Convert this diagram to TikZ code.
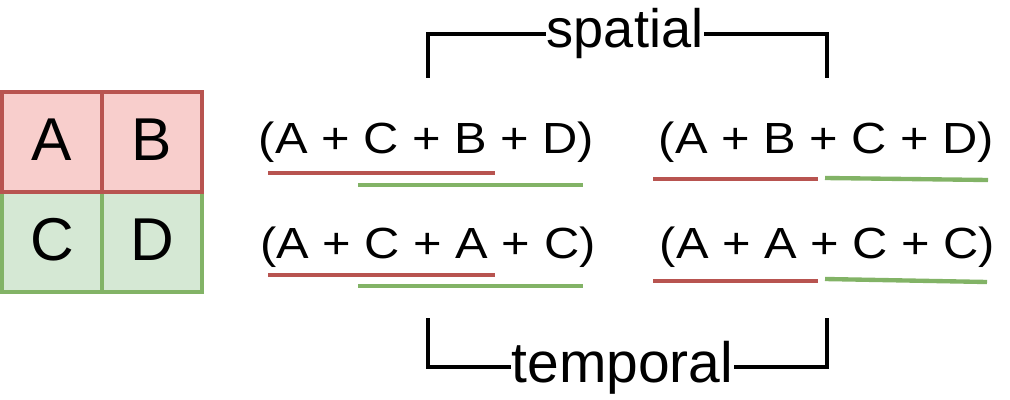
\documentclass[tikz,border=0pt]{standalone}
\usepackage{fontspec}
\setmainfont{Liberation Sans}
\newfontfamily\formulafont[FakeStretch=1.12]{Liberation Sans}
\usetikzlibrary{positioning}
\definecolor{redfill}{HTML}{F8CECC}
\definecolor{redline}{HTML}{B85450}
\definecolor{greenfill}{HTML}{D5E8D4}
\definecolor{greenline}{HTML}{82B366}

\begin{document}
\begin{tikzpicture}[x=0.025cm, y=-0.025cm,
  cell/.style={draw, line width=2.8pt, minimum size=2.5cm, inner sep=0pt, outer sep=0pt,
    text height=31pt, text depth=5pt, font=\fontsize{43}{50}\selectfont},
  redcell/.style={cell, draw=redline, fill=redfill},
  greencell/.style={cell, draw=greenline, fill=greenfill},
  sum/.style={anchor=base, inner sep=0pt, font=\formulafont\fontsize{31}{37}\selectfont},
  redbar/.style={draw=redline, line width=3.1pt},
  greenbar/.style={draw=greenline, line width=3.1pt},
  bracket/.style={line width=3pt},
  tag/.style={anchor=base, inner sep=0pt}]

  \useasboundingbox (0,0) rectangle (1010,400);

  % Grid
  \node[greencell] (c) at (52,242) {C};
  \node[greencell, right=0pt of c] (d) {D};
  \node[redcell, above=0pt of c] (a) {A};
  \node[redcell, right=0pt of a] (b) {B};

  % Sums
  \node[sum] (s1) at (426.5,154) {(A + C + B + D)};
  \node[sum] (s2) at (428,258) {(A + C + A + C)};
  \node[sum] (s3) at (826.5,154) {(A + B + C + D)};
  \node[sum] (s4) at (827.5,258) {(A + A + C + C)};

  % Underlines
  \draw[redbar] (268,173) -- (495,173);
  \draw[greenbar] (358,185) -- (583,185);
  \draw[redbar] (268,275) -- (495,275);
  \draw[greenbar] (358,286) -- (583,286);
  \draw[redbar] (653,179) -- (818,179);
  \draw[greenbar] (825,178) -- (988,180);
  \draw[redbar] (653,281) -- (818,281);
  \draw[greenbar] (825,279) -- (987,282);

  % Brackets
  \node[tag, font=\fontsize{38.5}{46}\selectfont] (spatial) at (625,48) {spatial};
  \draw[bracket] (428,78) |- (spatial.west);
  \draw[bracket] (827,78) |- (spatial.east);
  \node[tag, font=\fontsize{40.5}{48}\selectfont] (temporal) at (622.5,382) {temporal};
  \draw[bracket] (428,318) |- (temporal.west);
  \draw[bracket] (827,318) |- (temporal.east);

\end{tikzpicture}
\end{document}
